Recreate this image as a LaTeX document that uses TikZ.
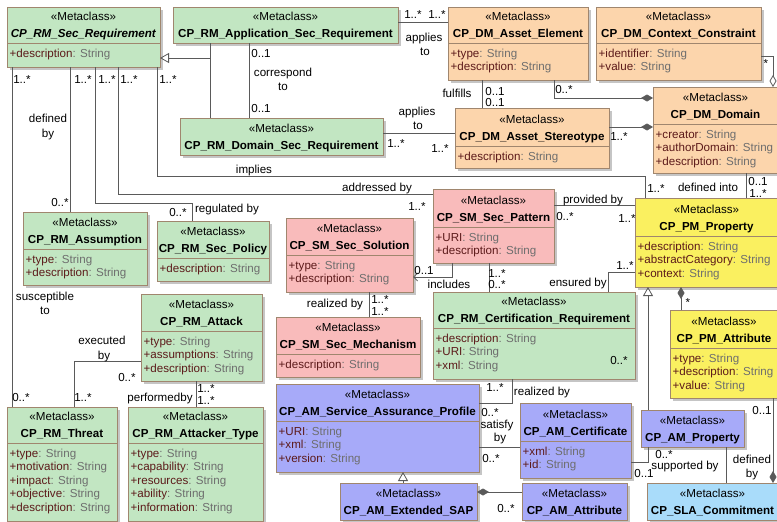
\documentclass[tikz,border=0pt]{standalone}
\usepackage{fontspec}
\setmainfont{Liberation Sans}
\usetikzlibrary{arrows.meta,shadows}
\definecolor{cgreen}{HTML}{C2E6C2}
\definecolor{corange}{HTML}{FCD5AC}
\definecolor{cpink}{HTML}{F9BBBB}
\definecolor{cyellow}{HTML}{FAF060}
\definecolor{cblue}{HTML}{A7AAF9}
\definecolor{clblue}{HTML}{A9DCFA}
\definecolor{cborder}{HTML}{A0866E}
\definecolor{cline}{HTML}{5A5A5A}
\definecolor{atname}{HTML}{5C1A1A}
\definecolor{attype}{HTML}{6E6E6E}
\newcommand{\attrline}[1]{\textcolor{atname}{+#1}\textcolor{attype}{ : String}}
\newcommand{\umlclass}[9]{%
  \node[clsbox, fill=#2, minimum width={(#5)-(#3)}, minimum height={(#6)-(#4)}, anchor=north west] (#1) at (#3,#4) {};
  \ifdim #7pt<#6pt \draw[divline] (#3,#7) -- (#5,#7);\fi
  \node[stereo] (#1-s) at ({(#3+#5)/2},{#7-22.8}) {«Metaclass»};
  \node[cname] (#1-n) at ({(#3+#5)/2},{#7-5.8}) {#8};
  \if\relax\detokenize{#9}\relax\else
    \foreach \attrn [count=\i from 0] in {#9} {\node[attrtxt] (#1-a\i) at ({#3+2.5},{#7+14.2+13.5*\i}) {\attrline{\attrn}};}
  \fi
}
\newcommand{\lab}[4]{\node[lbl] (#1) at (#2,{#3+4.2}) {#4};}
\begin{document}
\begin{tikzpicture}[x=1pt,y=-1pt,
  font=\fontsize{11.6pt}{13.5pt}\selectfont,
  clsbox/.style={draw=cborder, line width=0.8pt, inner sep=0pt, outer sep=0pt,
    drop shadow={shadow xshift=2.5pt, shadow yshift=-2.5pt, fill=black!45, opacity=.5}},
  divline/.style={draw=cborder, line width=0.8pt},
  stereo/.style={inner sep=0pt, anchor=base},
  cname/.style={inner sep=0pt, anchor=base, font=\fontsize{11.6pt}{13.5pt}\selectfont\bfseries},
  attrtxt/.style={inner sep=0pt, anchor=base west},
  conn/.style={draw=cline, line width=0.8pt},
  genarr/.style={-{Triangle[open, length=9pt, width=10pt]}},
  comp/.style={-{Diamond[length=12pt, width=7pt]}},
  aggr/.style={-{Diamond[open, length=12pt, width=7pt]}},
  navarr/.style={-{Straight Barb[length=4pt, width=8pt]}},
  lbl/.style={inner sep=0pt, anchor=base},
]
\useasboundingbox[fill=white] (0,0) rectangle (777,522);

% ---------- classes ----------
\umlclass{sreq}{cgreen}{7}{7}{160}{67}{43}{\textit{CP\_RM\_Sec\_Requirement}}{description}
\umlclass{app}{cgreen}{173}{7}{398}{43}{43}{CP\_RM\_Application\_Sec\_Requirement}{}
\umlclass{dom}{cgreen}{180}{118}{383}{155}{155}{CP\_RM\_Domain\_Sec\_Requirement}{}
\umlclass{ael}{corange}{448}{7}{588}{80}{43}{CP\_DM\_Asset\_Element}{type,description}
\umlclass{ctx}{corange}{596}{7}{761}{80}{43}{CP\_DM\_Context\_Constraint}{identifier,value}
\umlclass{ast}{corange}{455}{108}{609}{168}{146}{CP\_DM\_Asset\_Stereotype}{description}
\umlclass{ddom}{corange}{653}{87}{778}{173}{124}{CP\_DM\_Domain}{creator,authorDomain,description}
\umlclass{asm}{cgreen}{23}{212}{147}{285}{249}{CP\_RM\_Assumption}{type,description}
\umlclass{pol}{cgreen}{157}{221}{269}{281}{258}{CP\_RM\_Sec\_Policy}{description}
\umlclass{sol}{cpink}{286}{218}{413}{292}{255}{CP\_SM\_Sec\_Solution}{type,description}
\umlclass{pat}{cpink}{433}{189}{554}{263}{227}{CP\_SM\_Sec\_Pattern}{URI,description}
\umlclass{prop}{cyellow}{635}{198}{778}{287}{236}{CP\_PM\_Property}{description,abstractCategory,context}
\umlclass{mech}{cpink}{276}{317}{420}{377}{354}{CP\_SM\_Sec\_Mechanism}{description}
\umlclass{cert}{cgreen}{433}{292}{635}{379}{328}{CP\_RM\_Certification\_Requirement}{description,URI,xml}
\umlclass{att}{cgreen}{141}{294}{262}{381}{331}{CP\_RM\_Attack}{type,assumptions,description}
\umlclass{thr}{cgreen}{7}{407}{117}{521}{443}{CP\_RM\_Threat}{type,motivation,impact,objective,description}
\umlclass{atk}{cgreen}{128}{407}{263}{521}{443}{CP\_RM\_Attacker\_Type}{type,capability,resources,ability,information}
\umlclass{sap}{cblue}{276}{384}{479}{472}{421}{CP\_AM\_Service\_Assurance\_Profile}{URI,xml,version}
\umlclass{esap}{cblue}{340}{483}{477}{520}{520}{CP\_AM\_Extended\_SAP}{}
\umlclass{acert}{cblue}{520}{403}{631}{478}{441}{CP\_AM\_Certificate}{xml,id}
\umlclass{aatt}{cblue}{522}{483}{627}{520}{520}{CP\_AM\_Attribute}{}
\umlclass{aprop}{cblue}{641}{410}{744}{447}{447}{CP\_AM\_Property}{}
\umlclass{pmatt}{cyellow}{670}{310}{778}{398}{348}{CP\_PM\_Attribute}{type,description,value}
\umlclass{sla}{clblue}{647}{483}{778}{520}{520}{CP\_SLA\_Commitment}{}

% ---------- connectors ----------
\coordinate (gj) at (210,58);
\draw[conn] (210,0 |- app.south) -- (210,0 |- dom.north);
\draw[conn,genarr] (gj) -- (sreq.east |- gj);
\draw[conn] (249,0 |- app.south) -- (249,0 |- dom.north);
\draw[conn] (app.east |- 0,22) -- (ael.west |- 0,22);
\draw[conn] (dom.east |- 0,133) -- (ast.west |- 0,133);
\draw[conn] (482,0 |- ael.south) -- (482,0 |- ast.north);
\draw[conn,comp] (554,0 |- ael.south) |- (ddom.west |- 0,98);
\draw[conn,comp] (ast.east |- 0,127) -- (ddom.west |- 0,127);
\draw[conn,aggr] (ctx.east |- 0,56) -| (773,0 |- ddom.north);
\draw[conn] (157,0 |- sreq.south) |- (645,176) -- (645,0 |- prop.north);
\draw[conn] (746,0 |- ddom.south) -- (746,0 |- prop.north);
\draw[conn] (118,0 |- sreq.south) |- (pat.west |- 0,194);
\draw[conn] (70,0 |- sreq.south) -- (70,0 |- asm.north);
\draw[conn] (95,0 |- sreq.south) |- (192,203) -- (192,0 |- pol.north);
\draw[conn] (12,0 |- sreq.south) -- (12,0 |- thr.north);
\draw[conn] (att.west |- 0,361) -| (74,0 |- thr.north);
\draw[conn] (196,0 |- att.south) -- (196,0 |- atk.north);
\draw[conn] (pat.east |- 0,205) -- (prop.west |- 0,205);
\draw[conn,navarr] (452,0 |- pat.south) |- (sol.east |- 0,277);
\draw[conn] (489,0 |- pat.south) -- (489,0 |- cert.north);
\draw[conn] (369,0 |- sol.south) -- (369,0 |- mech.north);
\draw[conn] (608,0 |- cert.north) |- (prop.west |- 0,272);
\draw[conn,genarr] (648,0 |- aprop.north) -- (648,0 |- prop.south);
\draw[conn,comp] (681,0 |- pmatt.north) -- (681,0 |- prop.south);
\draw[conn] (512,0 |- cert.south) |- (sap.east |- 0,403);
\draw[conn] (sap.east |- 0,447) -- (acert.west |- 0,447);
\draw[conn] (acert.east |- 0,462) -| (648,0 |- aprop.south);
\draw[conn] (726,0 |- aprop.south) -- (726,0 |- sla.north);
\draw[conn,comp] (773,0 |- pmatt.south) -- (773,0 |- sla.north);
\draw[conn,genarr] (403,0 |- esap.north) -- (403,0 |- sap.south);
\draw[conn,comp] (aatt.west |- 0,492) -- (esap.east |- 0,492);

% ---------- labels ----------
\lab{m1}{22}{79}{1..*}
\lab{m2}{83}{79}{1..*}
\lab{m3}{107}{79}{1..*}
\lab{m4}{129}{79}{1..*}
\lab{m5}{168}{79}{1..*}
\lab{l1}{48}{118}{defined}
\lab{l2}{48}{133}{by}
\lab{m6}{261}{53}{0..1}
\lab{m7}{261}{108}{0..1}
\lab{l3}{283}{72}{correspond}
\lab{l4}{283}{86}{to}
\lab{m8}{413}{14}{1..*}
\lab{m9}{437}{14}{1..*}
\lab{l5}{424}{37}{applies}
\lab{l6}{425}{51}{to}
\lab{l7}{457}{93}{fulfills}
\lab{m10}{495}{91}{0..1}
\lab{m11}{495}{102}{0..1}
\lab{l8}{417}{111}{applies}
\lab{l9}{418}{125}{to}
\lab{m12}{396}{143}{1..*}
\lab{m13}{440}{148}{1..*}
\lab{m14}{564}{89}{0..*}
\lab{m15}{619}{136}{1..*}
\lab{m16}{766}{63}{*}
\lab{l10}{254}{169}{implies}
\lab{m17}{656}{188}{1..*}
\lab{l11}{708}{187}{defined into}
\lab{m18}{758}{181}{0..1}
\lab{m19}{758}{193}{1..*}
\lab{m20}{60}{202}{0..*}
\lab{m21}{178}{212}{0..*}
\lab{l12}{227}{208}{regulated by}
\lab{l13}{377}{187}{addressed by}
\lab{m22}{417}{206}{1..*}
\lab{l14}{593}{199}{provided by}
\lab{m23}{565}{216}{0..*}
\lab{m24}{627}{218}{1..*}
\lab{m25}{424}{270}{0..1}
\lab{l15}{449}{284}{includes}
\lab{m26}{497}{273}{1..*}
\lab{m27}{497}{284}{0..*}
\lab{l16}{335}{303}{realized by}
\lab{m28}{380}{299}{1..*}
\lab{m29}{380}{311}{1..*}
\lab{l17}{578}{282}{ensured by}
\lab{m30}{625}{265}{1..*}
\lab{m31}{688}{302}{*}
\lab{l18}{45}{296}{susceptible}
\lab{l19}{45}{310}{to}
\lab{l20}{102}{340}{executed}
\lab{l21}{104}{355}{by}
\lab{m32}{127}{377}{0..*}
\lab{m33}{21}{397}{0..*}
\lab{m34}{83}{397}{1..*}
\lab{l22}{160}{397}{performedby}
\lab{m35}{206}{388}{1..*}
\lab{m36}{206}{400}{1..*}
\lab{m37}{495}{387}{1..*}
\lab{l23}{542}{391}{realized by}
\lab{m38}{490}{412}{0..*}
\lab{l24}{497}{424}{satisfy}
\lab{l25}{500}{437}{by}
\lab{m39}{491}{458}{0..*}
\lab{m40}{619}{360}{0..*}
\lab{m41}{506}{508}{0..*}
\lab{m42}{664}{454}{0..*}
\lab{l26}{685}{465}{supported by}
\lab{m43}{644}{473}{0..1}
\lab{l27}{752}{459}{defined}
\lab{l28}{752}{473}{by}
\lab{m44}{762}{410}{0..1}
\end{tikzpicture}
\end{document}
